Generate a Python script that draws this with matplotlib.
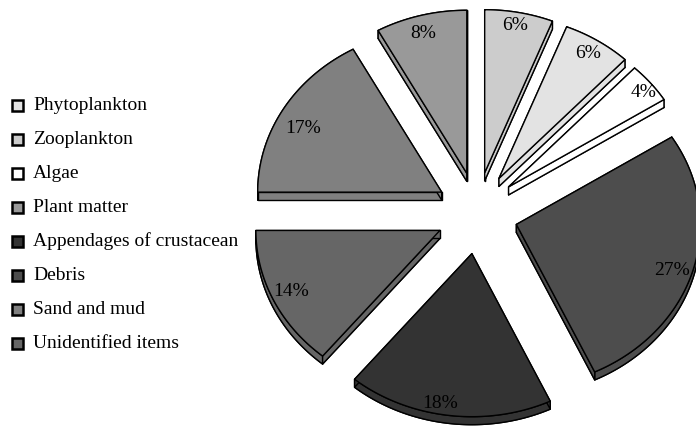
import numpy as np
import matplotlib
matplotlib.use("Agg")
import matplotlib.pyplot as plt
from matplotlib.patches import Polygon, Rectangle

# ---- data ----
categories = ["Phytoplankton", "Zooplankton", "Algae", "Plant matter",
              "Appendages of crustacean", "Debris", "Sand and mud", "Unidentified items"]
values = [6, 6, 4, 8, 18, 27, 17, 14]
colors = ["#E3E3E3", "#CCCCCC", "#FFFFFF", "#999999", "#333333", "#4D4D4D", "#808080", "#666666"]
# order of slices clockwise from 12 o'clock (indices into categories)
pie_order = [1, 0, 2, 5, 4, 7, 6, 3]

# ---- style ----
W, H = 696, 430
fig = plt.figure(figsize=(W / 100, H / 100), dpi=100)
ax = fig.add_axes([0, 0, 1, 1])
ax.set_xlim(0, W)
ax.set_ylim(H, 0)
ax.axis("off")

cx, cy = 477, 213
rx, ry = 184, 163
depth = 8
explode = [41] * 8
label_frac = 0.88
label_nudge = [(0, -6), (2, -4), (10, -3), (0, 6), (-11, 8), (-2, 0), (1, 9), (-3, -1)]
serif = ["Liberation Serif", "DejaVu Serif"]
lw = 1.0

total = float(sum(values))
start = 0.0
for k, idx in enumerate(pie_order):
    v = values[idx]
    a0 = start
    a1 = start + v / total * 2 * np.pi
    start = a1
    mid = 0.5 * (a0 + a1)
    e = explode[k]
    ox = cx + e * np.sin(mid)
    oy = cy - e * np.cos(mid)
    th = np.linspace(a0, a1, 120)
    arc_x = ox + rx * np.sin(th)
    arc_y = oy - ry * np.cos(th)
    top = np.column_stack([np.r_[ox, arc_x], np.r_[oy, arc_y]])
    bot = top + np.array([0, depth])
    col = colors[idx]
    # bottom face
    ax.add_patch(Polygon(bot, closed=True, fc=col, ec="black", lw=lw, joinstyle="round"))
    # arc band
    band = np.vstack([np.column_stack([arc_x, arc_y]),
                      np.column_stack([arc_x[::-1], arc_y[::-1] + depth])])
    ax.add_patch(Polygon(band, closed=True, fc=col, ec="black", lw=lw, joinstyle="round"))
    # radial sides
    for (px, py) in [(arc_x[0], arc_y[0]), (arc_x[-1], arc_y[-1])]:
        quad = np.array([[ox, oy], [px, py], [px, py + depth], [ox, oy + depth]])
        ax.add_patch(Polygon(quad, closed=True, fc=col, ec="black", lw=lw, joinstyle="round"))
    # top face
    ax.add_patch(Polygon(top, closed=True, fc=col, ec="black", lw=lw, joinstyle="round"))
    # label
    lx = ox + label_frac * rx * np.sin(mid) + label_nudge[k][0]
    ly = oy - label_frac * ry * np.cos(mid) + label_nudge[k][1]
    ax.text(lx, ly, f"{v}%", ha="center", va="center", fontsize=14,
            family=serif, color="black")

# legend
leg_x, leg_y0, leg_dy, sq = 12, 105, 34.0, 11
for i, (name, col) in enumerate(zip(categories, colors)):
    y = leg_y0 + i * leg_dy
    ax.add_patch(Rectangle((leg_x, y - sq / 2), sq, sq, fc=col, ec="black", lw=1.8))
    ax.text(leg_x + 21, y, name, ha="left", va="center", fontsize=14,
            family=serif, color="black")

fig.savefig("out.png", dpi=100)
